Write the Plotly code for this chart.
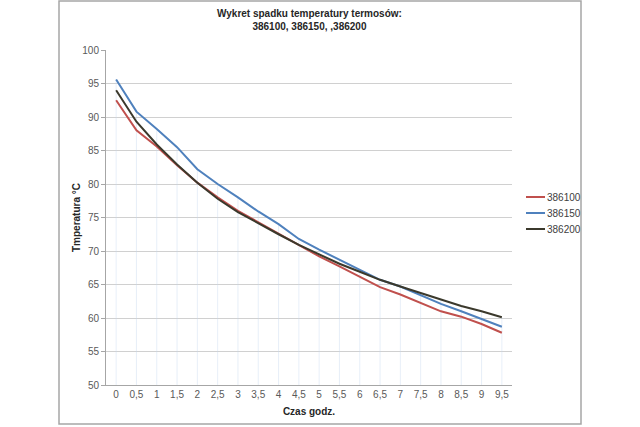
import plotly.graph_objects as go

# Data
czas = [0, 0.5, 1, 1.5, 2, 2.5, 3, 3.5, 4, 4.5, 5, 5.5, 6, 6.5, 7, 7.5, 8, 8.5, 9, 9.5]
tick_labels = ["0", "0,5", "1", "1,5", "2", "2,5", "3", "3,5", "4", "4,5",
               "5", "5,5", "6", "6,5", "7", "7,5", "8", "8,5", "9", "9,5"]
t_386100 = [92.5, 88.0, 85.6, 82.8, 80.2, 78.0, 76.0, 74.3, 72.6, 70.8,
            69.2, 67.7, 66.1, 64.6, 63.5, 62.3, 61.0, 60.2, 59.1, 57.8]
t_386150 = [95.6, 90.8, 88.2, 85.5, 82.2, 80.0, 78.0, 75.9, 74.0, 71.8,
            70.2, 68.7, 67.2, 65.7, 64.7, 63.4, 62.1, 61.0, 59.9, 58.7]
t_386200 = [94.0, 89.3, 85.9, 82.9, 80.2, 77.8, 75.8, 74.1, 72.5, 70.9,
            69.5, 68.1, 66.9, 65.7, 64.7, 63.7, 62.8, 61.8, 61.0, 60.1]
series_names = ["386100", "386150", "386200"]
series_values = [t_386100, t_386150, t_386200]
series_colors = ["#c0504d", "#4f81bd", "#3b392c"]

Y_MIN, Y_MAX = 50, 100
FONT = "Liberation Sans, Arial, sans-serif"

fig = go.Figure()

# faint drop lines from the highest point down to the axis
dx, dy = [], []
for i, x in enumerate(czas):
    top = max(s[i] for s in series_values)
    dx += [x, x, None]
    dy += [top, Y_MIN, None]
fig.add_trace(go.Scatter(x=dx, y=dy, mode="lines", showlegend=False, hoverinfo="skip",
                         line=dict(color="rgba(195,214,238,0.4)", width=1)))

for name, vals, col in zip(series_names, series_values, series_colors):
    fig.add_trace(go.Scatter(x=czas, y=vals, mode="lines", name=name, showlegend=False,
                             line=dict(color=col, width=2)))

# plot area in pixels: x 106..512, y 50..385
L, R, T, B = 106, 512, 50, 385
W, H = 640, 427
def px(xp):
    return (xp - L) / (R - L)
def py(yp):
    return (B - yp) / (B - T)

shapes = [dict(type="rect", xref="paper", yref="paper",
               x0=px(59), x1=px(581), y0=py(424), y1=py(1),
               line=dict(color="#a6a6a6", width=1.5), layer="below")]
annotations = []
leg_y = [197, 213, 229]
for name, col, yy in zip(series_names, series_colors, leg_y):
    shapes.append(dict(type="line", xref="paper", yref="paper",
                       x0=px(526), x1=px(545), y0=py(yy), y1=py(yy),
                       line=dict(color=col, width=2)))
    annotations.append(dict(text=name, xref="paper", yref="paper", x=px(545), y=py(yy),
                            xanchor="left", yanchor="middle", showarrow=False,
                            font=dict(size=10, color="#404040", family=FONT)))

annotations.append(dict(text="<b>Wykret spadku temperatury termosów:<br>386100, 386150, ,386200</b>",
                        xref="paper", yref="paper", x=0.5, y=py(20), xanchor="center",
                        yanchor="middle", showarrow=False,
                        font=dict(size=10, color="#262626", family=FONT)))
annotations.append(dict(text="<b>Tmperatura °C</b>", xref="paper", yref="paper",
                        x=px(76), y=py(218), textangle=-90, xanchor="center", yanchor="middle",
                        showarrow=False, font=dict(size=10, color="#262626", family=FONT)))

fig.update_layout(
    width=W, height=H,
    margin=dict(l=L, r=W - R, t=T, b=H - B),
    paper_bgcolor="white", plot_bgcolor="white",
    shapes=shapes, annotations=annotations,
    font=dict(family=FONT, size=10, color="#595959"),
    xaxis=dict(range=[-0.25, 9.75], tickvals=czas, ticktext=tick_labels,
               showgrid=False, zeroline=False, showline=True, linecolor="#a6a6a6",
               ticks="", tickfont=dict(size=10, color="#595959"),
               title=dict(text="<b>Czas godz.</b>", font=dict(size=10, color="#262626"), standoff=8)),
    yaxis=dict(range=[Y_MIN, Y_MAX], dtick=5, showgrid=True, gridcolor="#d0d0d0",
               zeroline=False, showline=True, linecolor="#a6a6a6",
               ticks="outside", ticklen=4, tickcolor="#a6a6a6",
               tickfont=dict(size=10, color="#595959")),
)

fig.write_html("out.html")
